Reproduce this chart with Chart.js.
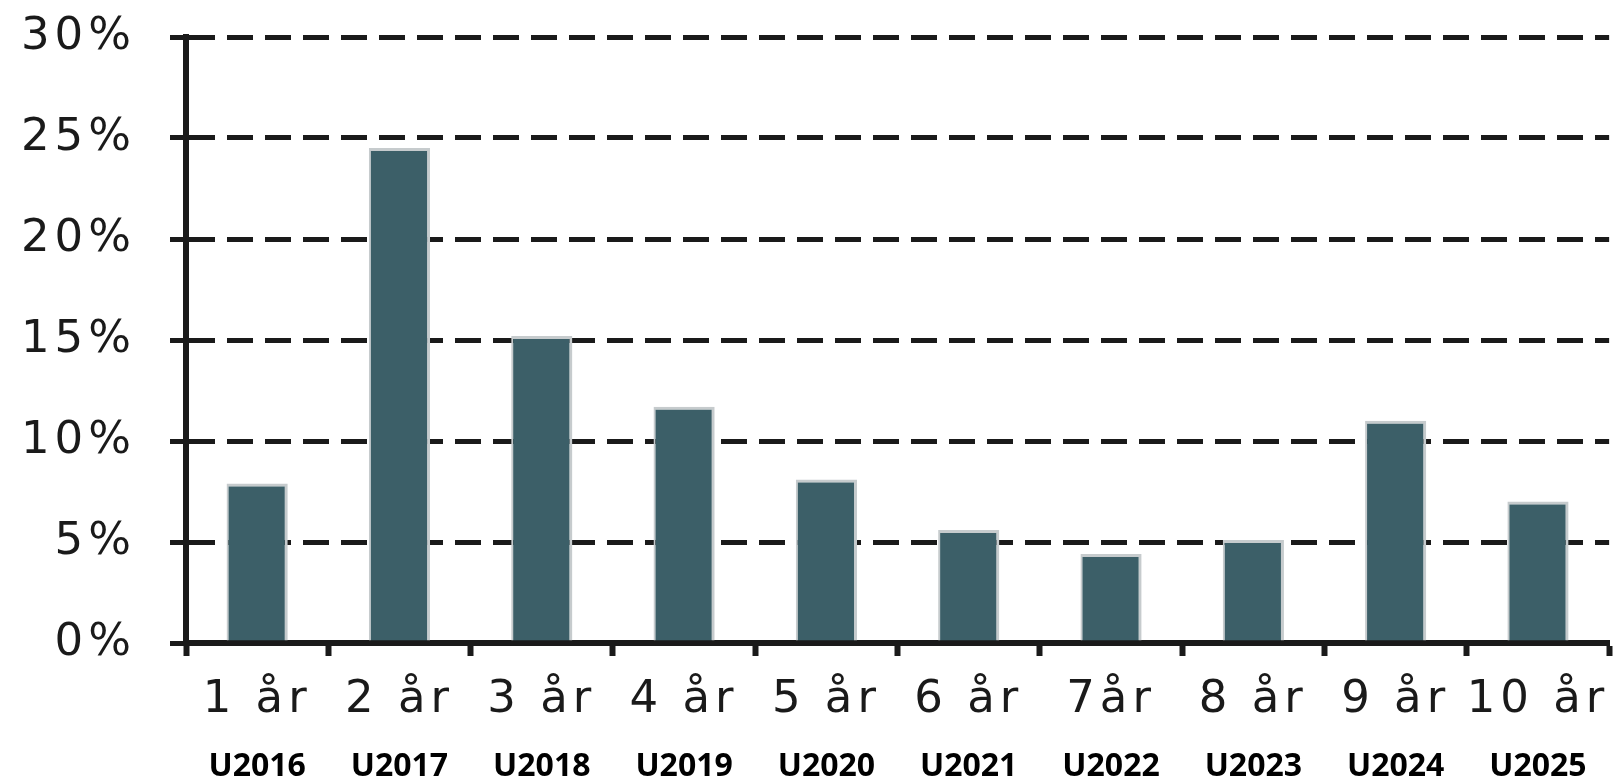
<!DOCTYPE html>
<html>
<head>
<meta charset="utf-8">
<script src="https://cdn.jsdelivr.net/npm/chart.js@4/dist/chart.umd.min.js"></script>
<style>
    body { margin: 0; background: #ffffff; }
    #wrap { width: 1614px; height: 779px; }
</style>
</head>
<body>
<div id="wrap"><canvas id="chart"></canvas></div>
<script>
// ==================== DONNÉES ====================
const periodLabels = ['1 år', '2 år', '3 år', '4 år', '5 år', '6 år', '7år', '8 år', '9 år', '10 år'];
const yearLabels = ['U2016', 'U2017', 'U2018', 'U2019', 'U2020', 'U2021', 'U2022', 'U2023', 'U2024', 'U2025'];
const shareValues = [7.9, 24.5, 15.2, 11.7, 8.1, 5.6, 4.4, 5.1, 11.0, 7.0];
const yTicks = [0, 5, 10, 15, 20, 25, 30];

const ink = '#1a1a1a';

// wider tick text, the original labels look stretched
const spacedLabels = {
    id: 'spacedLabels',
    afterUpdate(chart) {
        ['x', 'y'].forEach(id => {
            const scale = chart.scales[id];
            if (!scale || scale._spaced) return;
            const draw = scale.drawLabels;
            scale.drawLabels = function(area) {
                this.ctx.save();
                this.ctx.letterSpacing = '5px';
                draw.call(this, area);
                this.ctx.restore();
            };
            scale._spaced = true;
        });
    }
};

new Chart(document.getElementById('chart'), {
    type: 'bar',
    data: {
        labels: periodLabels,
        datasets: [{
            data: shareValues,
            backgroundColor: '#3c5f68',
            borderColor: '#c6cbcd',
            borderWidth: { left: 2, right: 3, top: 3, bottom: 0 },
            categoryPercentage: 1,
            barPercentage: 0.43
        }]
    },
    options: {
        responsive: true,
        maintainAspectRatio: false,
        animation: false,
        layout: { padding: { left: 0, right: 4, top: 37, bottom: 0 } },
        plugins: {
            legend: { display: false },
            tooltip: { enabled: false }
        },
        scales: {
            y: {
                min: 0,
                max: 30,
                afterBuildTicks: scale => { scale.ticks = yTicks.map(v => ({ value: v })); },
                afterFit: scale => {
                    scale.width = 186;
                    scale.paddingTop = 0;
                    scale.paddingBottom = 0;
                },
                grid: {
                    color: ink,
                    lineWidth: 5,
                    tickLength: 16,
                    tickColor: ink,
                    tickWidth: 5
                },
                border: { color: ink, width: 6, dash: [26, 12] },
                ticks: {
                    padding: 34,
                    color: ink,
                    font: { family: "'DejaVu Sans'", size: 45 },
                    callback: value => value + '%'
                }
            },
            x: {
                afterFit: scale => { scale.height = 84; },
                grid: {
                    drawOnChartArea: false,
                    tickLength: 13,
                    tickColor: ink,
                    tickWidth: 6
                },
                border: { color: ink, width: 6 },
                ticks: {
                    padding: 17,
                    color: ink,
                    maxRotation: 0,
                    autoSkip: false,
                    font: { family: "'DejaVu Sans'", size: 45 }
                }
            },
            x2: {
                type: 'category',
                labels: yearLabels,
                position: 'bottom',
                offset: true,
                afterFit: scale => { scale.height = 52; },
                grid: { display: false, drawTicks: false },
                border: { display: false },
                ticks: {
                    padding: 21,
                    color: '#000000',
                    maxRotation: 0,
                    autoSkip: false,
                    font: { family: "'Open Sans'", size: 32, weight: 'bold' }
                }
            }
        }
    },
    plugins: [spacedLabels]
});
</script>
</body>
</html>
